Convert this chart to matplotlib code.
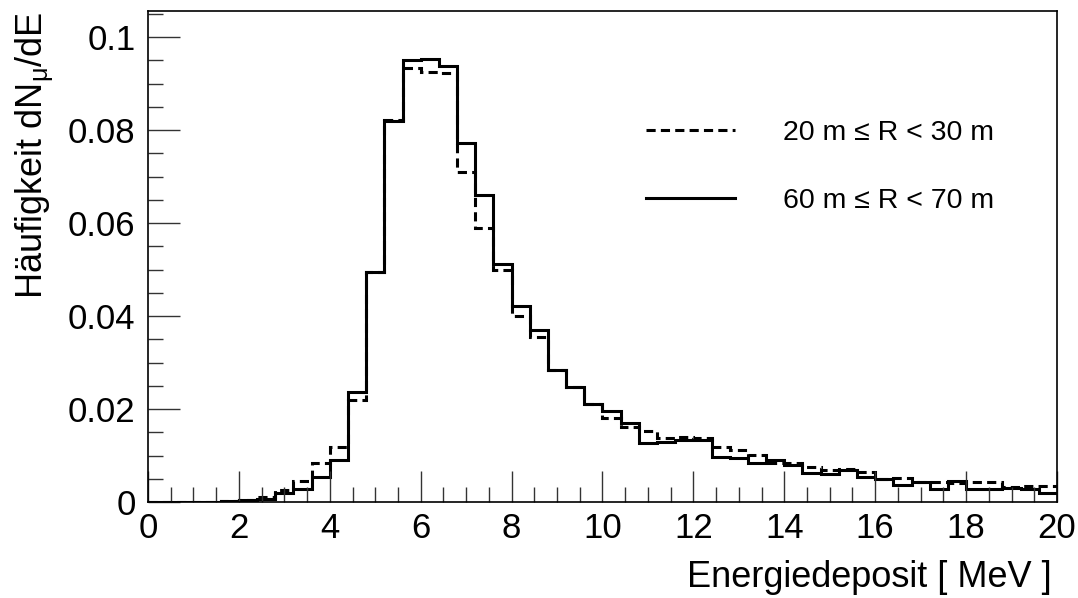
import numpy as np
import matplotlib
matplotlib.use("Agg")
import matplotlib.pyplot as plt
from matplotlib.ticker import MultipleLocator

# bin edges: 50 bins of 0.4 MeV from 0 to 20
edges = np.linspace(0, 20, 51)

# 20 m <= R < 30 m (dashed)
r20_30 = [0.0, 0.0, 0.0, 0.0001, 0.0002,
          0.0004, 0.0010, 0.0026, 0.0046, 0.0085,
          0.0119, 0.0219, 0.0494, 0.0822, 0.0934,
          0.0925, 0.0922, 0.0710, 0.0590, 0.0500,
          0.0400, 0.0356, 0.0284, 0.0247, 0.0211,
          0.0180, 0.0162, 0.0153, 0.0137, 0.0140,
          0.0137, 0.0119, 0.0112, 0.0101, 0.0085,
          0.0083, 0.0075, 0.0069, 0.0070, 0.0065,
          0.0049, 0.0051, 0.0044, 0.0044, 0.0040,
          0.0042, 0.0042, 0.0032, 0.0034, 0.0034]

# 60 m <= R < 70 m (solid)
r60_70 = [0.0, 0.0, 0.0, 0.0001, 0.0002,
          0.0004, 0.0007, 0.0020, 0.0029, 0.0054,
          0.0090, 0.0236, 0.0494, 0.0820, 0.0951,
          0.0952, 0.0938, 0.0773, 0.0660, 0.0511,
          0.0421, 0.0370, 0.0283, 0.0247, 0.0211,
          0.0196, 0.0171, 0.0128, 0.0130, 0.0133,
          0.0133, 0.0097, 0.0094, 0.0085, 0.0090,
          0.0080, 0.0063, 0.0060, 0.0069, 0.0053,
          0.0049, 0.0037, 0.0042, 0.0027, 0.0046,
          0.0029, 0.0029, 0.0031, 0.0029, 0.0019]

labels = ["20 m \u2264 R < 30 m", "60 m \u2264 R < 70 m"]
yticks = [0, 0.02, 0.04, 0.06, 0.08, 0.1]
yticklabels = ['0', '0.02', '0.04', '0.06', '0.08', '0.1']

plt.rcParams['font.family'] = ['Liberation Sans', 'DejaVu Sans']
plt.rcParams['mathtext.default'] = 'regular'

fig = plt.figure(figsize=(10.78, 5.98), dpi=100)
ax = fig.add_axes([0.1373, 0.1605, 0.8432, 0.8210])

ax.stairs(r20_30, edges, color='black', lw=2.2, linestyle=(0, (3, 1.7)),
          label=labels[0], baseline=None)
ax.stairs(r60_70, edges, color='black', lw=2.2, label=labels[1],
          baseline=None)

ax.set_xlim(0, 20)
ax.set_ylim(0, 0.1056)

ax.xaxis.set_major_locator(MultipleLocator(2))
ax.xaxis.set_minor_locator(MultipleLocator(0.5))
ax.yaxis.set_minor_locator(MultipleLocator(0.005))
ax.set_yticks(yticks)
ax.set_yticklabels(yticklabels)

ax.tick_params(which='both', direction='in', top=False, right=False,
               labelsize=25, width=1, color='#333333')
ax.tick_params(axis='x', which='major', length=22, pad=7)
ax.tick_params(axis='x', which='minor', length=11)
ax.tick_params(axis='y', which='major', length=23, pad=9)
ax.tick_params(axis='y', which='minor', length=11)
for s in ax.spines.values():
    s.set_linewidth(1.2)

ax.set_xlabel('Energiedeposit [ MeV ]', fontsize=26, x=0.9945, ha='right',
              labelpad=11)
ax.set_ylabel('H\u00e4ufigkeit dN$_{\u03bc}$/dE', fontsize=26, loc='top')
ax.yaxis.set_label_coords(-0.1015, 1.0)

ax.legend(loc='upper left', bbox_to_anchor=(646 / 1078, 1 - 120 / 598),
          bbox_transform=fig.transFigure, frameon=False, fontsize=20.5,
          handlelength=3.12, handletextpad=1.68, labelspacing=1.46,
          borderpad=0, borderaxespad=0)

fig.savefig('out.png', dpi=100)
